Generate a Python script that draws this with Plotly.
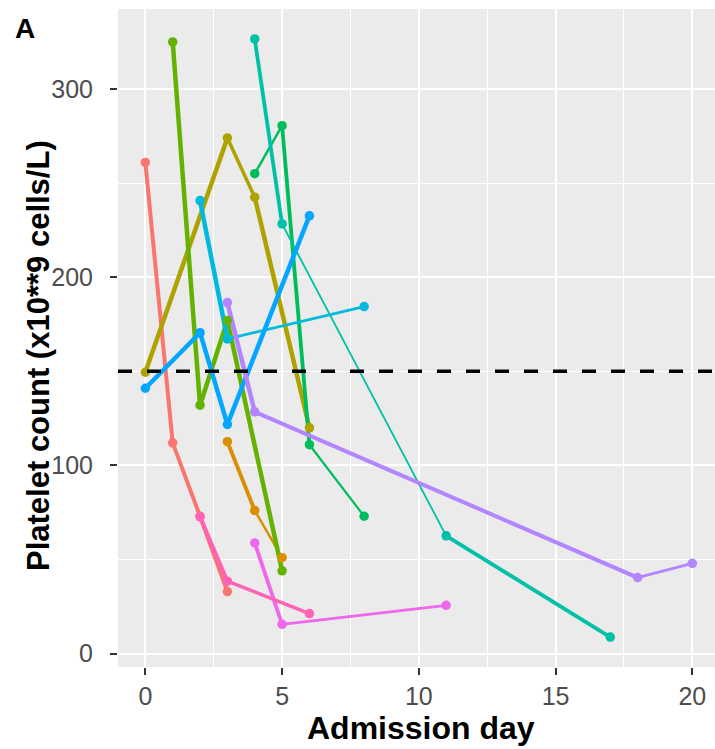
import plotly.graph_objects as go

# ---- data ----
red_x = [0, 1, 2, 3]
red_y = [261, 112, 73, 33]
orange_x = [3, 4, 5]
orange_y = [112.6, 76, 51]
olive_x = [0, 3, 4, 6]
olive_y = [149.5, 274, 242.5, 120]
yellowgreen_x = [1, 2, 3, 5]
yellowgreen_y = [325, 132, 177, 44]
green_x = [4, 5, 6, 8]
green_y = [255, 280.5, 111, 73]
teal_x = [4, 5, 11, 17]
teal_y = [326.6, 228.3, 62.6, 8.8]
cyan_x = [2, 3, 8]
cyan_y = [240.7, 167.2, 184.4]
blue_x = [0, 2, 3, 6]
blue_y = [141, 170.5, 121.8, 232.6]
purple_x = [3, 4, 18, 20]
purple_y = [186.5, 128.5, 40.4, 48]
magenta_x = [4, 5, 11]
magenta_y = [58.8, 15.6, 25.7]
pink_x = [2, 3, 6]
pink_y = [72.7, 38.5, 21.3]

THRESHOLD = 150
x_ticks = [0, 5, 10, 15, 20]
y_ticks = [0, 100, 200, 300]

# ---- styles ----
series = [
    (red_x, red_y, "#F8766D", [4.0, 4.0, 4.0]),
    (orange_x, orange_y, "#DB8E00", [3.8, 2.5]),
    (olive_x, olive_y, "#AEA200", [4.5, 3.5, 4.5]),
    (yellowgreen_x, yellowgreen_y, "#64B200", [4.5, 4.5, 4.5]),
    (green_x, green_y, "#00BD5C", [2.5, 3.8, 2.2]),
    (teal_x, teal_y, "#00C1A7", [3.8, 1.8, 3.8]),
    (cyan_x, cyan_y, "#00BADE", [4.5, 2.8]),
    (blue_x, blue_y, "#00A6FF", [4.5, 4.5, 4.5]),
    (purple_x, purple_y, "#B385FF", [4.5, 4.0, 2.8]),
    (magenta_x, magenta_y, "#EF67EB", [3.8, 2.8]),
    (pink_x, pink_y, "#FF63B6", [4.0, 3.5]),
]

fig = go.Figure()

# lines: each segment drawn with its own width
for xs, ys, col, widths in series:
    for i in range(len(xs) - 1):
        fig.add_trace(go.Scatter(
            x=xs[i:i + 2], y=ys[i:i + 2], mode="lines",
            line=dict(color=col, width=widths[i]),
            showlegend=False, hoverinfo="skip"))

# points
for xs, ys, col, widths in series:
    fig.add_trace(go.Scatter(
        x=xs, y=ys, mode="markers",
        marker=dict(color=col, size=9.5, line=dict(width=0)),
        showlegend=False))

fig.add_hline(y=THRESHOLD, line=dict(color="black", width=3.5, dash="14px,15px"))

FONT = "Liberation Sans, Arial, sans-serif"
W, H = 715, 749
L, R, T, B = 118, 0, 9, 82

fig.update_layout(
    width=W, height=H,
    margin=dict(l=L, r=R, t=T, b=B),
    paper_bgcolor="white",
    plot_bgcolor="#EBEBEB",
    font=dict(family=FONT),
    showlegend=False,
)

fig.update_xaxes(
    range=[-1, 20.83],
    tickvals=x_ticks, ticktext=[str(v) for v in x_ticks],
    showgrid=True, gridcolor="white", gridwidth=2,
    minor=dict(tickvals=[2.5, 7.5, 12.5, 17.5], showgrid=True,
               gridcolor="white", gridwidth=1, ticks=""),
    zeroline=False, showline=False,
    ticks="outside", ticklen=7, tickwidth=1.5, tickcolor="#333333",
    tickfont=dict(family=FONT, size=25, color="#4D4D4D"),
)
fig.update_yaxes(
    range=[-7.1, 342.5],
    tickvals=y_ticks, ticktext=[str(v) for v in y_ticks],
    showgrid=True, gridcolor="white", gridwidth=2,
    minor=dict(tickvals=[50, 150, 250], showgrid=True,
               gridcolor="white", gridwidth=1, ticks=""),
    zeroline=False, showline=False,
    ticks="outside", ticklen=7, tickwidth=1.5, tickcolor="#333333",
    ticklabelstandoff=12,
    tickfont=dict(family=FONT, size=25, color="#4D4D4D"),
)

fig.add_annotation(
    text="<b>Admission day</b>", xref="paper", yref="paper",
    x=0.508, y=0, yshift=-61, xanchor="center", yanchor="middle",
    showarrow=False, font=dict(family=FONT, size=32, color="black"))
fig.add_annotation(
    text="<b>Platelet count (x10**9 cells/L)</b>", xref="paper", yref="paper",
    x=0, xshift=-80, y=0.5, yshift=-18, xanchor="center", yanchor="middle",
    textangle=-90, showarrow=False,
    font=dict(family=FONT, size=31, color="black"))
fig.add_annotation(
    text="<b>A</b>", xref="paper", yref="paper",
    x=0, xshift=-93, y=1, yshift=-19, xanchor="center", yanchor="middle",
    showarrow=False, font=dict(family=FONT, size=28, color="black"))

fig.write_html(
    "out.html",
    config={"displayModeBar": False},
    post_script="document.body.style.margin='0';document.body.style.overflow='hidden';",
)
